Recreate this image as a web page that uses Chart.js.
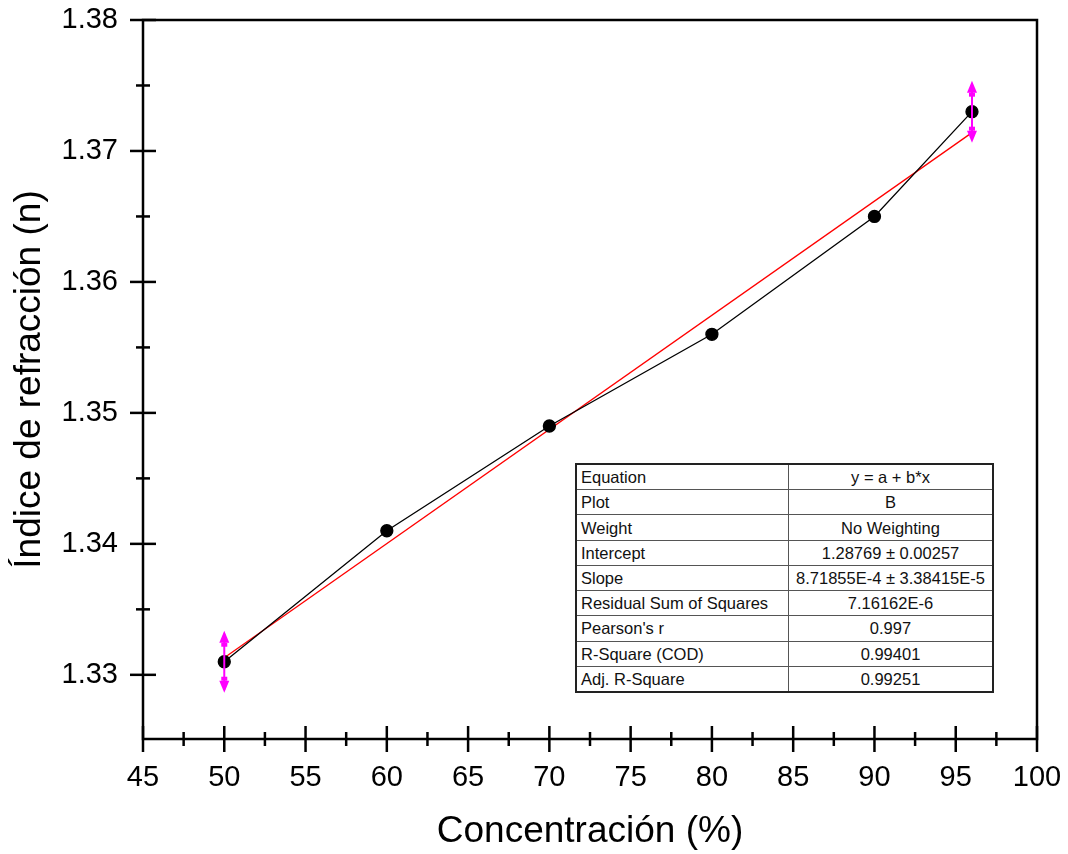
<!DOCTYPE html>
<html>
<head>
<meta charset="utf-8">
<script src="https://cdn.jsdelivr.net/npm/chart.js@4.4.1/dist/chart.umd.min.js"></script>
<style>
  body { margin: 0; background: #fff; }
  #wrap { position: relative; width: 1068px; height: 854px; }
  #fitTable {
    position: absolute; left: 575px; top: 463px; width: 419px; height: 230px;
    border-collapse: collapse; border: 2px solid #222;
    font-family: "Liberation Sans", Arial, sans-serif; font-size: 16.5px; color: #111;
    background: #fff;
  }
  #fitTable td { border: 1px solid #555; padding: 0 4px; height: 24px; line-height: 16px; white-space: nowrap; }
  #fitTable td:first-child { width: 203px; text-align: left; }
  #fitTable td:last-child { text-align: center; padding: 0 2px; }
</style>
</head>
<body>
<div id="wrap">
  <canvas id="chart" width="1068" height="854"></canvas>
  <table id="fitTable"></table>
</div>
<script>
// Measured points
const concentration = [50, 60, 70, 80, 90, 96];
const refractiveIndex = [1.331, 1.341, 1.349, 1.356, 1.365, 1.373];

// Linear fit line (red) at both ends of the fit range
const fitX = [50, 96];
const fitY = [1.3313, 1.3714];

// Fit range markers sit on these points
const fitRangeIdx = [0, 5];

// Axis ticks
const xTicks = [45, 50, 55, 60, 65, 70, 75, 80, 85, 90, 95, 100];
const yTicks = [1.33, 1.34, 1.35, 1.36, 1.37, 1.38];
const xMinorTicks = [47.5, 52.5, 57.5, 62.5, 67.5, 72.5, 77.5, 82.5, 87.5, 92.5, 97.5];
const yMinorTicks = [1.335, 1.345, 1.355, 1.365, 1.375];

// Fit results table
const tableLabels = ['Equation', 'Plot', 'Weight', 'Intercept', 'Slope',
  'Residual Sum of Squares', "Pearson's r", 'R-Square (COD)', 'Adj. R-Square'];
const tableValues = ['y = a + b*x', 'B', 'No Weighting', '1.28769 \u00b1 0.00257',
  '8.71855E-4 \u00b1 3.38415E-5', '7.16162E-6', '0.997', '0.99401', '0.99251'];

const tableEl = document.getElementById('fitTable');
tableLabels.forEach((label, i) => {
  const tr = document.createElement('tr');
  tr.innerHTML = `<td>${label}</td><td>${tableValues[i]}</td>`;
  tableEl.appendChild(tr);
});

const FONT = '"Liberation Sans", Arial, sans-serif';

// Axis frame, ticks crossing the axis lines, and the fit range arrows
const framePlugin = {
  id: 'frame',
  afterDraw(chart) {
    const { ctx, chartArea: a, scales: { x, y } } = chart;
    ctx.save();
    ctx.strokeStyle = '#000';
    ctx.lineWidth = 2.5;
    ctx.strokeRect(a.left, a.top, a.right - a.left, a.bottom - a.top);

    const tick = (px, py, len, horiz) => {
      ctx.beginPath();
      if (horiz) { ctx.moveTo(px - len, py); ctx.lineTo(px + len, py); }
      else { ctx.moveTo(px, py - len); ctx.lineTo(px, py + len); }
      ctx.stroke();
    };
    xTicks.forEach(v => tick(x.getPixelForValue(v), a.bottom, 13, false));
    xMinorTicks.forEach(v => tick(x.getPixelForValue(v), a.bottom, 7, false));
    yTicks.forEach(v => tick(a.left, y.getPixelForValue(v), 13, true));
    yMinorTicks.forEach(v => tick(a.left, y.getPixelForValue(v), 7, true));

    // magenta double arrows
    ctx.strokeStyle = '#ff00ff';
    ctx.fillStyle = '#ff00ff';
    ctx.lineWidth = 2;
    fitRangeIdx.forEach(i => {
      const px = x.getPixelForValue(concentration[i]);
      const py = y.getPixelForValue(refractiveIndex[i]);
      ctx.beginPath();
      ctx.moveTo(px, py - 28);
      ctx.lineTo(px, py + 28);
      ctx.stroke();
      [-1, 1].forEach(d => {
        ctx.beginPath();
        ctx.moveTo(px, py + d * 31);
        ctx.lineTo(px - 5, py + d * 19);
        ctx.lineTo(px + 5, py + d * 19);
        ctx.closePath();
        ctx.fill();
        ctx.fillRect(px - 3, py + d * 19 - (d > 0 ? 4 : 0), 6, 4);
      });
    });
    ctx.restore();
  }
};

new Chart(document.getElementById('chart'), {
  type: 'scatter',
  data: {
    datasets: [{
      label: 'B',
      data: concentration.map((c, i) => ({ x: c, y: refractiveIndex[i] })),
      showLine: true,
      borderColor: '#000',
      borderWidth: 1.3,
      pointRadius: 6,
      pointBackgroundColor: '#000',
      pointBorderColor: '#000'
    }, {
      label: 'Linear Fit of B',
      data: fitX.map((c, i) => ({ x: c, y: fitY[i] })),
      showLine: true,
      borderColor: '#ff0000',
      borderWidth: 1.3,
      pointRadius: 0
    }]
  },
  options: {
    responsive: false,
    animation: false,
    devicePixelRatio: 1,
    layout: { padding: { top: 20, right: 31, left: 0, bottom: 0 } },
    plugins: { legend: { display: false }, tooltip: { enabled: false } },
    scales: {
      x: {
        type: 'linear',
        min: 45, max: 100,
        afterBuildTicks: s => { s.ticks = xTicks.map(v => ({ value: v })); },
        afterFit: s => { s.height = 115; s.paddingLeft = 0; s.paddingRight = 0; },
        grid: { display: false, drawTicks: false },
        border: { display: false },
        ticks: {
          color: '#000', padding: 22, maxRotation: 0, autoSkip: false,
          font: { family: FONT, size: 29 },
          callback: v => String(v)
        },
        title: {
          display: true, text: 'Concentración (%)', color: '#000',
          font: { family: FONT, size: 37, lineHeight: 1.2 },
          padding: { top: 0, bottom: 0 }
        }
      },
      y: {
        type: 'linear',
        min: 1.3251, max: 1.38,
        afterBuildTicks: s => { s.ticks = yTicks.map(v => ({ value: v })); },
        afterFit: s => { s.width = 143; s.paddingTop = 0; s.paddingBottom = 0; },
        grid: { display: false, drawTicks: false },
        border: { display: false },
        ticks: {
          color: '#000', padding: 25, autoSkip: false,
          font: { family: FONT, size: 29 },
          callback: v => v.toFixed(2)
        },
        title: {
          display: true, text: 'Índice de refracción (n)', color: '#000',
          font: { family: FONT, size: 37, lineHeight: 1.2 },
          padding: { top: 8, bottom: 0 }
        }
      }
    }
  },
  plugins: [framePlugin]
});
</script>
</body>
</html>
